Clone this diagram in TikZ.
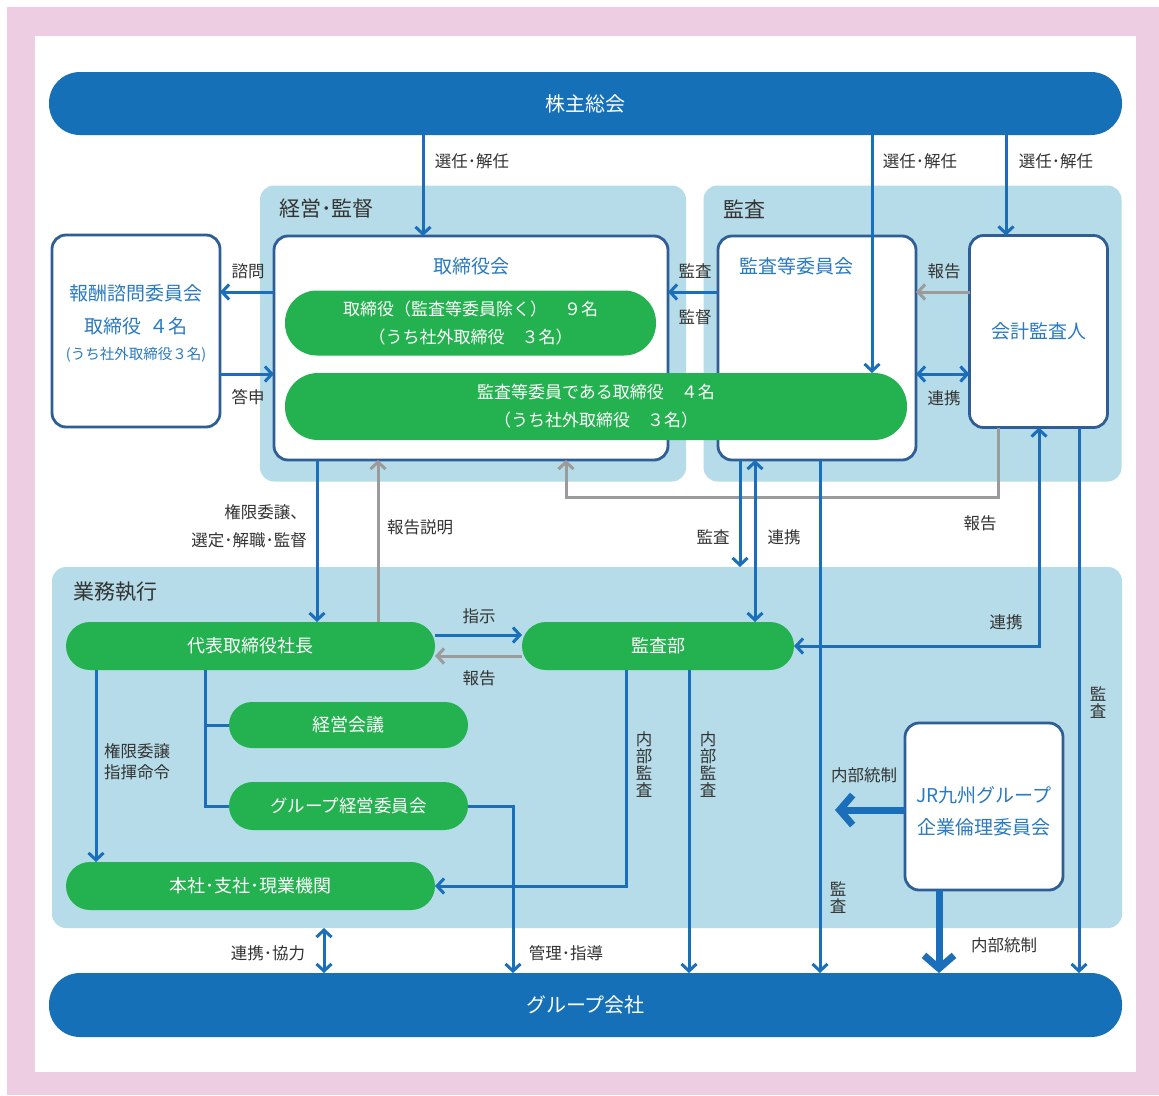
\documentclass[tikz,border=0pt]{standalone}
\usepackage{fontspec}
\setmainfont{Noto Sans CJK JP}
\usetikzlibrary{arrows.meta}
\definecolor{framepink}{HTML}{EDCDE2}
\definecolor{areablue}{HTML}{B5DCE8}
\definecolor{barblue}{HTML}{1570B8}
\definecolor{edgeblue}{HTML}{2F5E96}
\definecolor{titleblue}{HTML}{2A7AC0}
\definecolor{pillgreen}{HTML}{24B14F}
\definecolor{linkblue}{HTML}{1A6EBA}
\definecolor{reportgray}{HTML}{9B9B9B}
\definecolor{labelgray}{HTML}{333333}
\begin{document}
\begin{tikzpicture}[x=1pt, y=-1pt,
  area/.style={fill=areablue, rounded corners=14pt, inner sep=0pt, outer sep=0pt},
  bar/.style={fill=barblue, text=white, rounded corners=31pt, inner sep=0pt, outer sep=0pt, font=\fontsize{20}{24}\selectfont},
  panel/.style={draw=edgeblue, line width=2.8pt, fill=white, rounded corners=14pt, inner sep=0pt, outer sep=0pt, text=titleblue},
  pill/.style={fill=pillgreen, text=white, rounded corners=#1, inner sep=0pt, outer sep=0pt, align=center, font=\fontsize{17}{28}\selectfont},
  areatitle/.style={text=labelgray, anchor=west, inner sep=0pt, font=\fontsize{21}{24}\selectfont},
  headline/.style={text=titleblue, inner sep=0pt, font=\fontsize{19}{24}\selectfont},
  lbl/.style={text=labelgray, inner sep=0pt, font=\fontsize{16.5}{22}\selectfont},
  upright/.style={lbl, align=center, font=\fontsize{16.5}{17}\selectfont},
  link/.style={draw=linkblue, line width=3pt, -{Straight Barb[length=7pt,width=15pt]}},
  twoway/.style={draw=linkblue, line width=3pt, {Straight Barb[length=7pt,width=15pt]}-{Straight Barb[length=7pt,width=15pt]}},
  trunk/.style={draw=linkblue, line width=3pt},
  report/.style={draw=reportgray, line width=3pt, -{Straight Barb[length=7pt,width=15pt]}},
  heavy/.style={draw=linkblue, line width=7pt, -{Straight Barb[length=13pt,width=30pt]}}
]
\useasboundingbox (0,0) rectangle (1159,1095);
\fill[framepink] (7,7) rectangle (1159,1095);
\fill[white] (35,36) rectangle (1136,1072);

\node[area, minimum width=426pt, minimum height=296pt] (oversight) at (473,333.5) {};
\node[area, minimum width=418pt, minimum height=296pt] (audit) at (912.5,333.5) {};
\node[area, minimum width=1070pt, minimum height=361pt] (business) at (587,747.5) {};
\node[areatitle] (oversighttitle) at (279,209) {経営･監督};
\node[areatitle] (audittitle) at (723,209) {監査};
\node[areatitle] (businesstitle) at (73,592) {業務執行};

\node[bar, minimum width=1073pt, minimum height=63pt] (meeting) at (585.5,103.5) {株主総会};
\node[bar, minimum width=1073pt, minimum height=64pt] (group) at (585.5,1005) {グループ会社};

\node[panel, minimum width=168pt, minimum height=192pt] (reward) at (136,331) {};
\node[headline] (rewardtitle) at (136,293) {報酬諮問委員会};
\node[headline] (rewardcount) at (136,326) {取締役\hspace{0.45em}４名};
\node[headline, font=\fontsize{14.5}{18}\selectfont] (rewardnote) at (136,355) {(うち社外取締役３名)};
\node[panel, minimum width=394pt, minimum height=224pt] (board) at (471,348) {};
\node[headline] (boardtitle) at (471,266) {取締役会};
\node[panel, minimum width=198pt, minimum height=224pt] (committee) at (817,348) {};
\node[headline] (committeetitle) at (796,266) {監査等委員会};
\node[panel, minimum width=138pt, minimum height=192pt, font=\fontsize{19}{24}\selectfont] (auditor) at (1038.5,331.5) {会計監査人};
\node[panel, minimum width=158pt, minimum height=167pt] (ethics) at (984,806.5) {};
\node[headline, align=center, font=\fontsize{19}{32}\selectfont] (ethicstitle) at (984,811) {JR九州グループ\\企業倫理委員会};

\node[pill=32pt, minimum width=371pt, minimum height=65pt] (directors) at (470.5,323) {取締役（監査等委員除く）　９名\\（うち社外取締役　３名）};
\node[pill=33pt, minimum width=622pt, minimum height=67pt] (auditdirectors) at (596,406.5) {監査等委員である取締役　４名\\（うち社外取締役　３名）};
\node[pill=24pt, minimum width=369pt, minimum height=48pt, font=\fontsize{18}{22}\selectfont] (president) at (250.5,646) {代表取締役社長};
\node[pill=24pt, minimum width=272pt, minimum height=48pt, font=\fontsize{18}{22}\selectfont] (internalaudit) at (658,646) {監査部};
\node[pill=23pt, minimum width=239pt, minimum height=46pt, font=\fontsize{18}{22}\selectfont] (mgmtmeeting) at (348.5,725) {経営会議};
\node[pill=24pt, minimum width=239pt, minimum height=48pt, font=\fontsize{17.5}{22}\selectfont] (groupcommittee) at (348.5,806) {グループ経営委員会};
\node[pill=24pt, minimum width=369pt, minimum height=48pt, font=\fontsize{18}{22}\selectfont] (branches) at (250.5,886) {本社･支社･現業機関};

\coordinate (elect1) at (423,0);
\coordinate (elect2) at (872,0);
\coordinate (elect3) at (1006,0);
\coordinate (askrow) at (0,292);
\coordinate (answerrow) at (0,374);
\coordinate (delegate) at (317,0);
\coordinate (explain) at (378,0);
\coordinate (rep1) at (998,497);
\coordinate (rep2) at (566,497);
\coordinate (audit1) at (740,0);
\coordinate (coop1) at (755,0);
\coordinate (audit2) at (820,0);
\coordinate (coop2) at (1039,0);
\coordinate (audit3) at (1079,0);
\coordinate (orderrow) at (0,635);
\coordinate (reportrow) at (0,656);
\coordinate (command) at (96,0);
\coordinate (branch) at (205,0);
\coordinate (guide) at (513,0);
\coordinate (inner1) at (626,0);
\coordinate (inner2) at (689,0);
\coordinate (coop3) at (324,0);
\coordinate (ethicsrow) at (835,810);
\coordinate (control) at (939,0);

\draw[report] (auditor.south -| rep1) -- (rep1) -- (rep2) -- (board.south -| rep2);
\draw[report] (auditor.west |- askrow) -- (committee.east |- askrow);
\draw[report] (president.north -| explain) -- (board.south -| explain);
\draw[report] (internalaudit.west |- reportrow) -- (president.east |- reportrow);
\draw[link] (meeting.south -| elect1) -- (board.north -| elect1);
\draw[link] (meeting.south -| elect2) -- (auditdirectors.north -| elect2);
\draw[link] (meeting.south -| elect3) -- (auditor.north -| elect3);
\draw[link] (board.west |- askrow) -- (reward.east |- askrow);
\draw[link] (reward.east |- answerrow) -- (board.west |- answerrow);
\draw[link] (committee.west |- askrow) -- (board.east |- askrow);
\draw[twoway] (committee.east |- answerrow) -- (auditor.west |- answerrow);
\draw[link] (board.south -| delegate) -- (president.north -| delegate);
\draw[link] (committee.south -| audit1) -- (business.north -| audit1);
\draw[twoway] (committee.south -| coop1) -- (internalaudit.north -| coop1);
\draw[link] (committee.south -| audit2) -- (group.north -| audit2);
\draw[twoway] (internalaudit.east) -| (auditor.south -| coop2);
\draw[link] (auditor.south -| audit3) -- (group.north -| audit3);
\draw[link] (president.east |- orderrow) -- (internalaudit.west |- orderrow);
\draw[link] (president.south -| command) -- (branches.north -| command);
\draw[trunk] (president.south -| branch) |- (groupcommittee.west);
\draw[trunk] (branch |- mgmtmeeting.west) -- (mgmtmeeting.west);
\draw[link] (groupcommittee.east) -| (group.north -| guide);
\draw[link] (internalaudit.south -| inner1) |- (branches.east);
\draw[link] (internalaudit.south -| inner2) -- (group.north -| inner2);
\draw[twoway] (business.south -| coop3) -- (group.north -| coop3);
\draw[heavy] (ethics.west |- ethicsrow) -- (ethicsrow);
\draw[heavy] (ethics.south -| control) -- (group.north -| control);

\node[lbl] (electlabel1) at (472,161) {選任･解任};
\node[lbl] (electlabel2) at (920,161) {選任･解任};
\node[lbl] (electlabel3) at (1056,161) {選任･解任};
\node[lbl] (asklabel) at (248,271) {諮問};
\node[lbl] (answerlabel) at (248,397) {答申};
\node[lbl] (auditlabel) at (695,271) {監査};
\node[lbl] (supervlabel) at (695,317) {監督};
\node[lbl] (reportlabel) at (944,271) {報告};
\node[lbl] (cooplabel) at (944,398) {連携};
\node[lbl, align=right, anchor=east, font=\fontsize{16.5}{28}\selectfont] (delegatelabel) at (307,526) {権限委譲、\\選定･解職･監督};
\node[lbl] (explainlabel) at (420,527) {報告説明};
\node[lbl] (auditlabel2) at (713,537) {監査};
\node[lbl] (cooplabel2) at (784,537) {連携};
\node[lbl] (reportlabel2) at (980,523) {報告};
\node[lbl] (orderlabel) at (479,616) {指示};
\node[lbl] (backlabel) at (479,678) {報告};
\node[lbl] (cooplabel3) at (1006,622) {連携};
\node[lbl, align=left, anchor=west, font=\fontsize{16.5}{21}\selectfont] (commandlabel) at (104,762) {権限委譲\\指揮命令};
\node[upright] (innerlabel1) at (644,765) {内\\部\\監\\査};
\node[upright] (innerlabel2) at (708,765) {内\\部\\監\\査};
\node[upright] (auditlabel3) at (838,898) {監\\査};
\node[upright] (auditlabel4) at (1098,703) {監\\査};
\node[lbl] (controllabel1) at (864,775) {内部統制};
\node[lbl] (controllabel2) at (1004,945) {内部統制};
\node[lbl] (cooplabel4) at (268,953) {連携･協力};
\node[lbl] (guidelabel) at (566,953) {管理･指導};
\end{tikzpicture}
\end{document}
